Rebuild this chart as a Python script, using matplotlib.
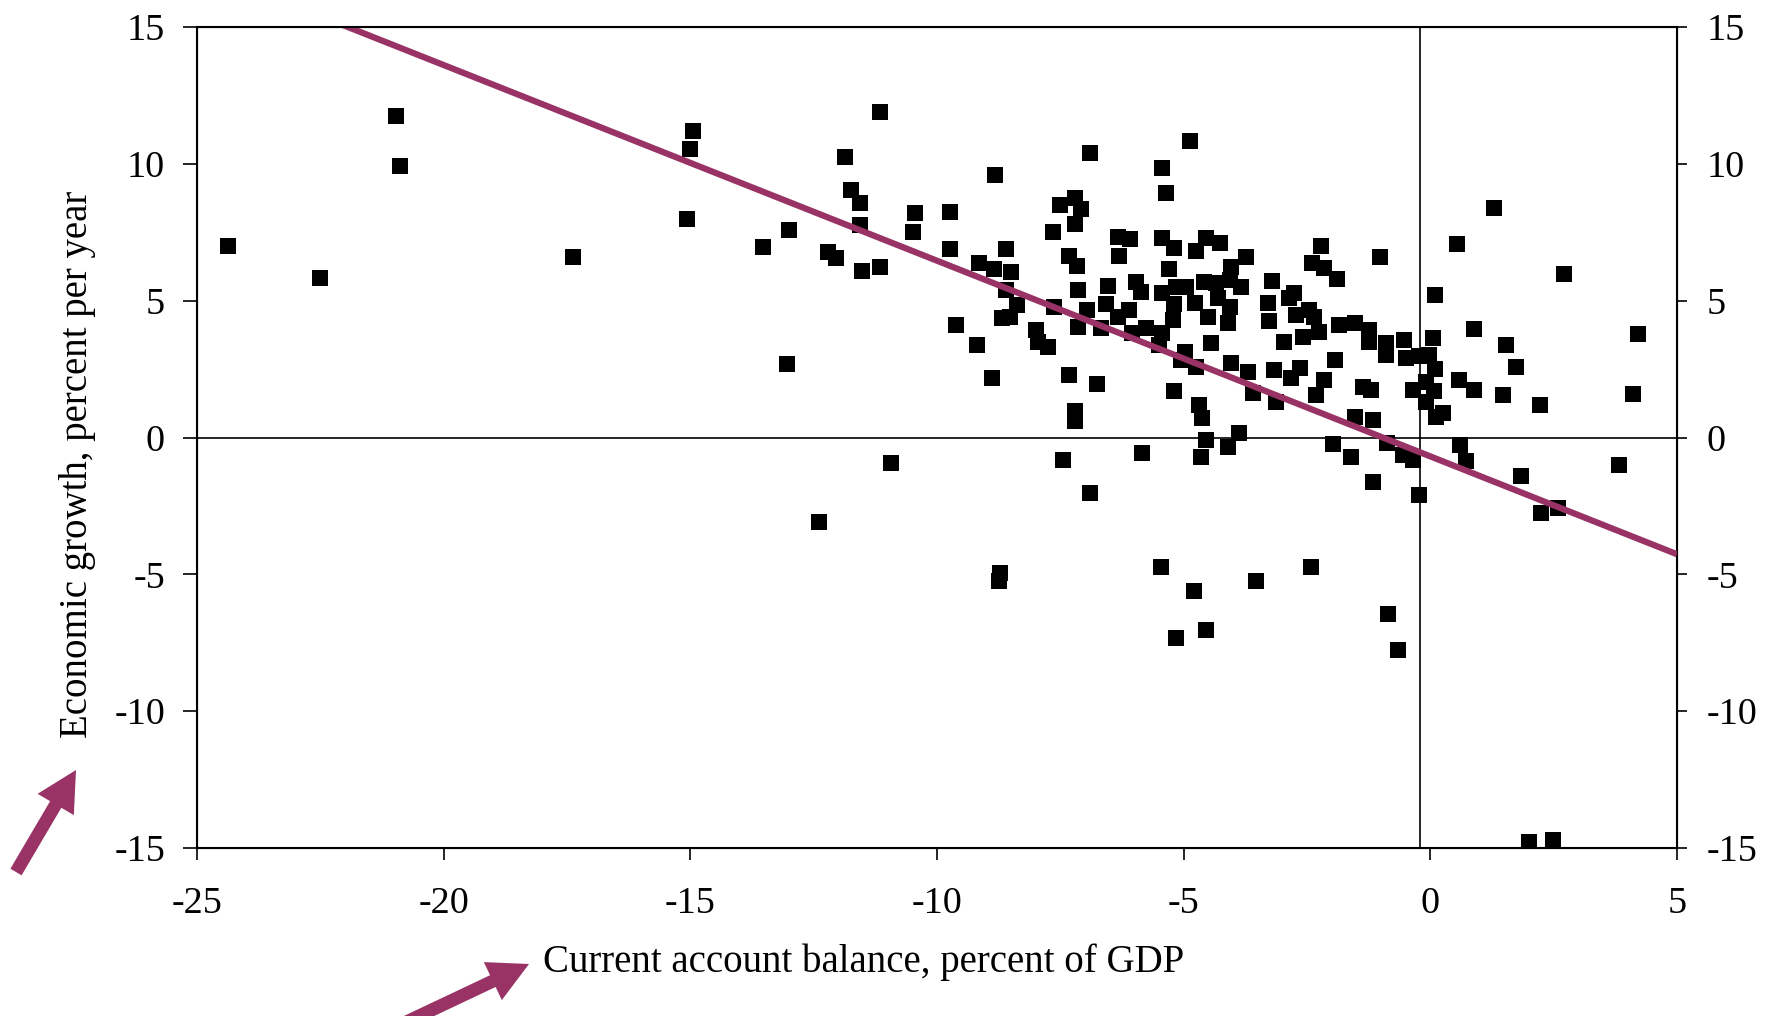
import numpy as np
import matplotlib
matplotlib.use("Agg")
import matplotlib.pyplot as plt
from matplotlib.patches import FancyArrow

plt.rcParams['font.family'] = ['Liberation Serif', 'DejaVu Serif']
plt.rcParams['axes.unicode_minus'] = False

# -------------------- DATA --------------------
# current account balance, percent of GDP
cab = [
    -24.37, -22.50, -20.96, -20.89, -17.38, -14.94, -15.01, -15.06,
    -11.16, -11.87, -11.74, -11.57, -11.57, -12.99, -13.53, -12.21, -12.04, -11.53,
    -11.16, -10.45, -10.49, -9.73, -9.73, -8.83, -9.14, -9.62, -9.19, -8.88,
    -13.04, -10.93, -12.39,
    -6.89, -4.88, -5.43, -5.35, -7.20, -7.50, -7.09, -7.20, -7.64, -8.60,
    -8.85, -8.50, -7.33, -7.17, -6.34, -6.08, -6.32, -5.43, -5.19, -4.75,
    -4.55, -5.29, -8.60, -8.38, -8.68, -8.53, -7.62, -7.15, -6.95, -7.15,
    -6.67, -6.54, -6.57, -6.10, -6.34, -5.96, -5.86, -5.43, -5.15, -4.95,
    -5.19, -4.78, -4.58, -5.22, -5.43, -6.04, -5.76, -5.49, -4.98, -4.75,
    -5.05, -4.45, -7.99, -7.96, -7.75, -7.33, -6.76, -5.19, -7.20, -7.20,
    -4.68, -4.62, -4.54, -4.65, -5.84, -7.45, -6.89,
    -4.26, -3.73, -4.05, -4.34, -4.07, -3.83, -4.31, -4.07, -4.51, -4.11,
    -3.21, -3.30, -3.28, -2.76, -2.86, -2.46, -2.73, -2.36, -2.25, -2.59,
    -2.97, -2.22, -2.39, -2.16, -1.89, -1.03, -1.85, -1.52, -1.25, -1.25,
    -0.90, -0.90, -0.53, -0.49, -0.22, 0.05, 0.10, -1.94, -4.04, -3.70,
    -3.60, -3.16, -2.65, -2.82, -2.15, -2.32, -3.13, -1.37, -1.20, -1.52,
    -1.17, -0.36, -0.09, 0.12, -4.10, -3.87, -1.98, -1.61, -1.17, -0.87,
    -0.56, -0.36, -0.23,
    1.30, 0.54, 2.70, 0.89, 1.53, 1.74, 4.20, 4.10, 1.47, 2.22,
    0.59, 0.89, -0.03, 0.10, -0.09, 0.07, 0.25, 0.60, 0.72, 1.83,
    2.25, 2.59, 3.82, -0.85, -0.65, 2.00, 2.49,
    -8.73, -8.74, -5.45, -4.79, -5.16, -4.54, -3.53, -2.42,
]
# economic growth, percent per year
growth = [
    7.01, 5.84, 11.76, 9.91, 6.58, 11.19, 10.53, 7.99,
    11.88, 10.26, 9.05, 8.56, 7.77, 7.59, 6.97, 6.79, 6.57, 6.09,
    6.22, 8.19, 7.50, 8.23, 6.89, 9.59, 6.39, 4.11, 3.38, 2.17,
    2.69, -0.94, -3.07,
    10.40, 10.83, 9.84, 8.93, 8.74, 8.49, 8.36, 7.80, 7.50, 6.89,
    6.15, 6.03, 6.63, 6.27, 7.32, 7.24, 6.65, 7.30, 6.94, 6.82,
    7.28, 6.15, 5.39, 4.84, 4.37, 4.40, 4.78, 5.39, 4.66, 4.05,
    3.99, 5.54, 4.88, 4.66, 4.40, 5.70, 5.33, 5.28, 5.51, 5.51,
    4.88, 4.93, 5.67, 4.30, 3.82, 3.82, 3.99, 3.38, 3.14, 2.59,
    2.84, 3.45, 3.93, 3.50, 3.32, 2.28, 1.96, 1.71, 0.98, 0.62,
    1.19, 0.70, -0.09, -0.72, -0.55, -0.84, -2.04,
    7.10, 6.61, 6.24, 5.64, 5.76, 5.51, 5.09, 4.78, 4.42, 4.18,
    5.72, 4.93, 4.27, 5.27, 5.09, 4.66, 4.48, 4.42, 3.87, 3.69,
    3.50, 7.01, 6.37, 6.19, 5.78, 6.59, 4.11, 4.18, 3.93, 3.50,
    3.45, 3.02, 3.57, 2.90, 2.96, 3.63, 5.22, 2.84, 2.71, 2.41,
    1.62, 2.47, 2.53, 2.17, 2.10, 1.56, 1.31, 1.86, 1.74, 0.76,
    0.64, 1.74, 1.31, 0.76, -0.33, 0.16, -0.23, -0.73, -1.61, -0.21,
    -0.64, -0.82, -2.10,
    8.39, 7.08, 5.97, 3.95, 3.38, 2.58, 3.77, 1.60, 1.54, 1.18,
    2.09, 1.73, 3.00, 2.51, 2.03, 1.70, 0.88, -0.29, -0.86, -1.40,
    -2.76, -2.59, -0.99, -6.46, -7.76, -14.78, -14.69,
    -4.94, -5.24, -4.74, -5.60, -7.33, -7.03, -5.23, -4.74,
]

# trend line: growth = FIT_INTERCEPT + FIT_SLOPE * cab
FIT_INTERCEPT = -0.69
FIT_SLOPE = -0.715
VLINE_X = -0.2

x_ticks = [-25, -20, -15, -10, -5, 0, 5]
y_ticks = [-15, -10, -5, 0, 5, 10, 15]

PLUM = '#993366'
W, H = 1773, 1016

# -------------------- PLOT --------------------
fig = plt.figure(figsize=(W / 100, H / 100), dpi=100)
ax = fig.add_axes([197 / W, 1 - 848 / H, (1677 - 197) / W, (848 - 27) / H])

ax.axhline(0, color='black', lw=1.2, zorder=2)
ax.plot([VLINE_X, VLINE_X], [-15, 15], color='black', lw=1.2, zorder=2)
ax.scatter(cab, growth, marker='s', s=118, c='black', linewidths=0, zorder=3)
line_x = np.array([-25.0, 5.0])
ax.plot(line_x, FIT_INTERCEPT + FIT_SLOPE * line_x, color=PLUM, lw=4.5,
        solid_capstyle='butt', zorder=4)

ax.set_xlim(-25, 5)
ax.set_ylim(-15, 15)
ax.set_xticks(x_ticks)
ax.set_yticks(y_ticks)
for sp in ax.spines.values():
    sp.set_linewidth(1.5)
ax.tick_params(axis='x', direction='out', length=8.6, width=1.2, pad=19, labelsize=27.5)
ax.tick_params(axis='y', direction='out', length=10, width=1.2, pad=13, labelsize=27.5)

ax2 = ax.twinx()
ax2.set_ylim(-15, 15)
ax2.set_yticks(y_ticks)
ax2.tick_params(axis='y', direction='out', length=7, width=1.2, pad=14, labelsize=27.5)

ax.set_xlabel('Current account balance, percent of GDP', fontsize=28)
ax.xaxis.set_label_coords((864 - 197) / 1480, (848 - 962) / 821)
ax.xaxis.label.set_va('center')
ax.set_ylabel('Economic growth, percent per year', fontsize=28)
ax.yaxis.set_label_coords((77 - 197) / 1480, (848 - 464) / 821)
ax.yaxis.label.set_va('center')

# pointer arrows, drawn in pixel space on an overlay
axo = fig.add_axes([0, 0, 1, 1], zorder=5)
axo.set_xlim(0, W)
axo.set_ylim(0, H)
axo.axis('off')
for (x0, y0, x1, y1) in [(16, 144, 76, 246), (400, -9, 529, 52)]:
    axo.add_patch(FancyArrow(x0, y0, x1 - x0, y1 - y0, width=13, head_width=42,
                             head_length=40, length_includes_head=True,
                             color=PLUM, lw=0))

fig.savefig('out.png', dpi=100)
